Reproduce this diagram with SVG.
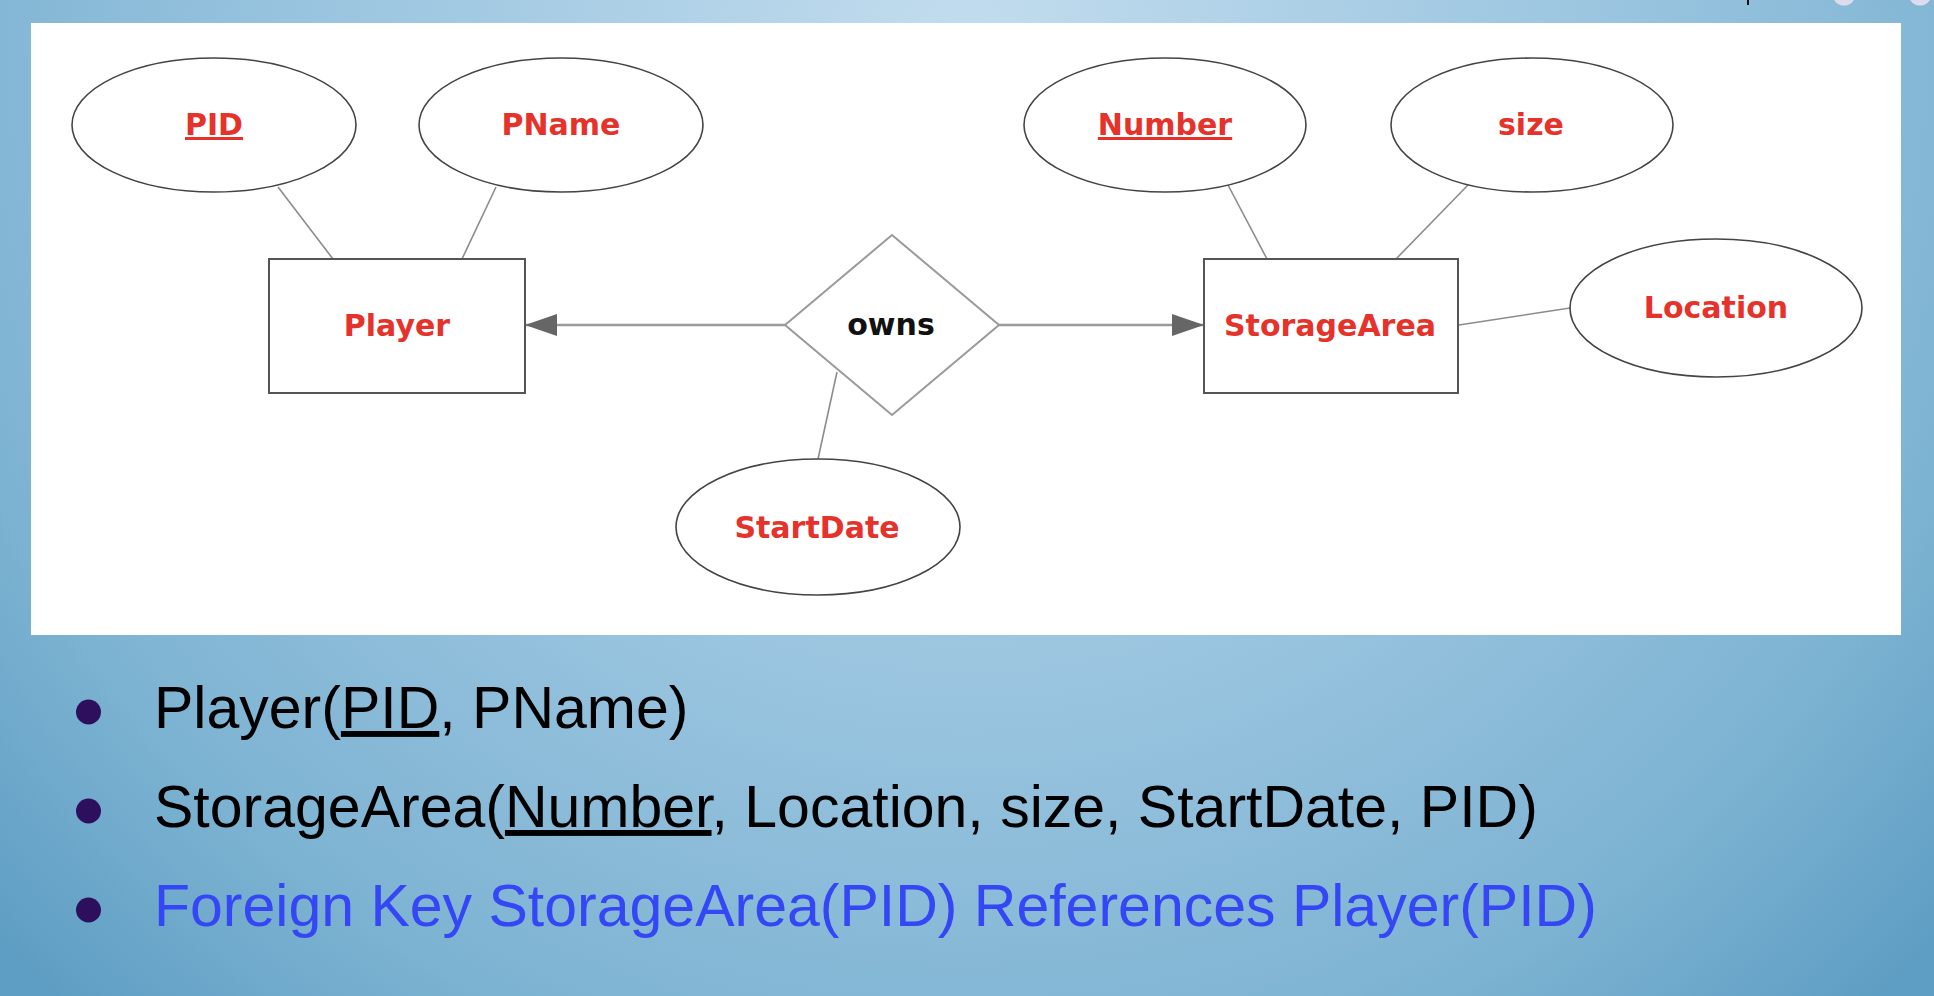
<svg xmlns="http://www.w3.org/2000/svg" width="1934" height="996" viewBox="0 0 1934 996">
  <defs>
    <radialGradient id="bg" gradientUnits="userSpaceOnUse" cx="967" cy="40" r="1320">
      <stop offset="0" stop-color="#c2dcee"/>
      <stop offset="0.5" stop-color="#99c4df"/>
      <stop offset="0.8" stop-color="#7db3d2"/>
      <stop offset="1" stop-color="#5f9ec4"/>
    </radialGradient>
    <marker id="arrow" viewBox="0 0 32 22" refX="32" refY="11" markerWidth="32" markerHeight="22" markerUnits="userSpaceOnUse" orient="auto">
      <path d="M0,0 L32,11 L0,22 Z" fill="#666666"/>
    </marker>
    <style>
      .attr { fill: #ffffff; stroke: #444444; stroke-width: 1.6; }
      .entity { fill: #ffffff; stroke: #555555; stroke-width: 2; }
      .rel { fill: #ffffff; stroke: #9a9a9a; stroke-width: 2; }
      .edge { stroke: #8c8c8c; stroke-width: 1.6; fill: none; }
      .flow { stroke: #9a9a9a; stroke-width: 2.4; fill: none; }
      .lbl { font-family: "DejaVu Sans", "Liberation Sans", sans-serif; font-weight: bold; font-size: 30px; text-anchor: middle; fill: #e5322a; }
      .rlbl { font-family: "DejaVu Sans", "Liberation Sans", sans-serif; font-weight: bold; font-size: 30px; text-anchor: middle; fill: #111111; }
      .key { text-decoration: underline; }
      .bullet { fill: #2e0f5e; }
      .line { font-family: "Liberation Sans", Arial, sans-serif; font-size: 59px; fill: #000000; }
      .fk { fill: #3546f5; }
    </style>
  </defs>

  <!-- slide background -->
  <rect x="0" y="0" width="1934" height="996" fill="url(#bg)"/>
  <!-- window controls peeking in at the top edge -->
  <rect x="1747" y="0" width="2" height="5" fill="#111111"/>
  <circle cx="1844" cy="-6" r="11.5" fill="#dcdcee"/>
  <circle cx="1920" cy="-6" r="11.5" fill="#dcdcee"/>

  <!-- diagram panel -->
  <rect x="31" y="23" width="1870" height="612" fill="#ffffff"/>

  <!-- connectors -->
  <g id="connectors">
    <line class="edge" x1="278" y1="187" x2="333" y2="259"/>
    <line class="edge" x1="496" y1="187" x2="462" y2="259"/>
    <line class="edge" x1="1228" y1="185" x2="1267" y2="259"/>
    <line class="edge" x1="1468" y1="185" x2="1396" y2="259"/>
    <line class="edge" x1="1459" y1="325" x2="1570" y2="308"/>
    <line class="edge" x1="837" y1="372" x2="818" y2="459"/>
    <line class="flow" x1="785" y1="325" x2="525" y2="325" marker-end="url(#arrow)"/>
    <line class="flow" x1="999" y1="325" x2="1204" y2="325" marker-end="url(#arrow)"/>
  </g>

  <!-- entities -->
  <g id="player">
    <rect class="entity" x="269" y="259" width="256" height="134"/>
    <text class="lbl" x="397" y="336">Player</text>
  </g>
  <g id="storagearea">
    <rect class="entity" x="1204" y="259" width="254" height="134"/>
    <text class="lbl" x="1330" y="336">StorageArea</text>
  </g>

  <!-- relationship -->
  <g id="owns">
    <polygon class="rel" points="785,325 892,235 999,325 892,415"/>
    <text class="rlbl" x="891" y="335">owns</text>
  </g>

  <!-- attributes -->
  <g id="pid">
    <ellipse class="attr" cx="214" cy="125" rx="142" ry="67"/>
    <text class="lbl key" x="214" y="135">PID</text>
  </g>
  <g id="pname">
    <ellipse class="attr" cx="561" cy="125" rx="142" ry="67"/>
    <text class="lbl" x="561" y="135">PName</text>
  </g>
  <g id="number">
    <ellipse class="attr" cx="1165" cy="125" rx="141" ry="67"/>
    <text class="lbl key" x="1165" y="135">Number</text>
  </g>
  <g id="size">
    <ellipse class="attr" cx="1532" cy="125" rx="141" ry="67"/>
    <text class="lbl" x="1531" y="135">size</text>
  </g>
  <g id="location">
    <ellipse class="attr" cx="1716" cy="308" rx="146" ry="69"/>
    <text class="lbl" x="1716" y="318">Location</text>
  </g>
  <g id="startdate">
    <ellipse class="attr" cx="818" cy="527" rx="142" ry="68"/>
    <text class="lbl" x="817" y="538">StartDate</text>
  </g>

  <!-- relational schema -->
  <g id="schema">
    <circle class="bullet" cx="88.5" cy="712" r="12.5"/>
    <text class="line" x="154" y="728">Player(<tspan class="key">PID</tspan>, PName)</text>
    <circle class="bullet" cx="88.5" cy="811" r="12.5"/>
    <text class="line" x="154" y="827">StorageArea(<tspan class="key">Number</tspan>, Location, size, StartDate, PID)</text>
    <circle class="bullet" cx="88.5" cy="910" r="12.5"/>
    <text class="line fk" x="154" y="926">Foreign Key StorageArea(PID) References Player(PID)</text>
  </g>
</svg>
